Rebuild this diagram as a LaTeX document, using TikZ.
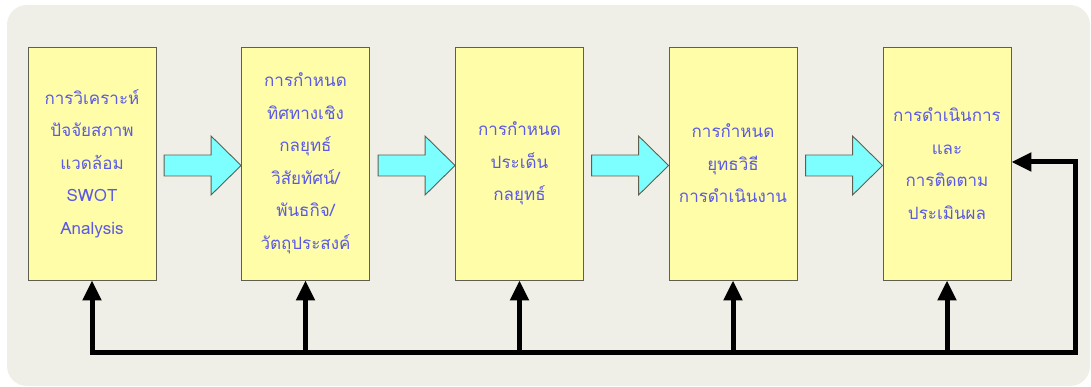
\documentclass[tikz,border=0pt]{standalone}
\usepackage{fontspec}
\newfontfamily\thaifont[Script=Thai]{Loma}
\usetikzlibrary{arrows.meta,calc}
\definecolor{bgc}{HTML}{EFEFE7}
\definecolor{boxfill}{HTML}{FFFDA8}
\definecolor{boxline}{HTML}{5F5F50}
\definecolor{txt}{HTML}{5A5AE6}
\definecolor{cyanfill}{HTML}{7DFFFF}
\tikzset{
  stepbox/.style={draw=boxline, line width=0.9pt, fill=boxfill, minimum width=128pt, minimum height=233pt,
    inner sep=0pt, align=center, text=txt, font=\thaifont\fontsize{17}{32.5}\selectfont},
  fbline/.style={line width=5pt, draw=black, line join=miter},
  fbtip/.style={-{Triangle[length=20pt,width=18pt]}},
  blockarrow/.style={draw=boxline, line width=0.9pt, fill=cyanfill, line join=miter}
}
\begin{document}
\begin{tikzpicture}[x=1pt,y=-1pt]
\useasboundingbox (0,0) rectangle (1091,387);
\fill[bgc, rounded corners=20pt] (7,5) rectangle (1090,386);
\node[stepbox] (b1) at (92,163.5) {การวิเคราะห์\\ปัจจัยสภาพ\\แวดล้อม\\SWOT\\Analysis};
\node[stepbox] (b2) at (305.5,163.5) {การกำหนด\\ทิศทางเชิง\\กลยุทธ์\\วิสัยทัศน์/\\พันธกิจ/\\วัตถุประสงค์};
\node[stepbox] (b3) at (519.5,163.5) {การกำหนด\\ประเด็น\\กลยุทธ์};
\node[stepbox] (b4) at (733,163.5) {การกำหนด\\ยุทธวิธี\\การดำเนินงาน};
\node[stepbox] (b5) at (947,163.5) {การดำเนินการ\\และ\\การติดตาม\\ประเมินผล};
\foreach \a/\b in {b1/b2,b2/b3,b3/b4,b4/b5}{
  \draw[blockarrow] ($(\b.west)+(0,2)$) -- ++(-30,-29.5) -- ++(0,19) -- ++(-47,0) -- ++(0,21) -- ++(47,0) -- ++(0,19) -- cycle;
}
\coordinate (fbl) at (b1.south |- 0,352);
\coordinate (fbx) at (1075,162);
\coordinate (fbr) at (fbx |- fbl);
\draw[fbline, {Triangle[length=20pt,width=18pt]}-{Triangle[length=20pt,width=18pt]}] (b1.south) -- (fbl) -- (fbr) -- (fbx) -- (b5.east |- fbx);
\foreach \b in {b2,b3,b4,b5}{
  \draw[fbline, fbtip] (\b.south |- fbl) -- (\b.south);
}
\end{tikzpicture}
\end{document}
